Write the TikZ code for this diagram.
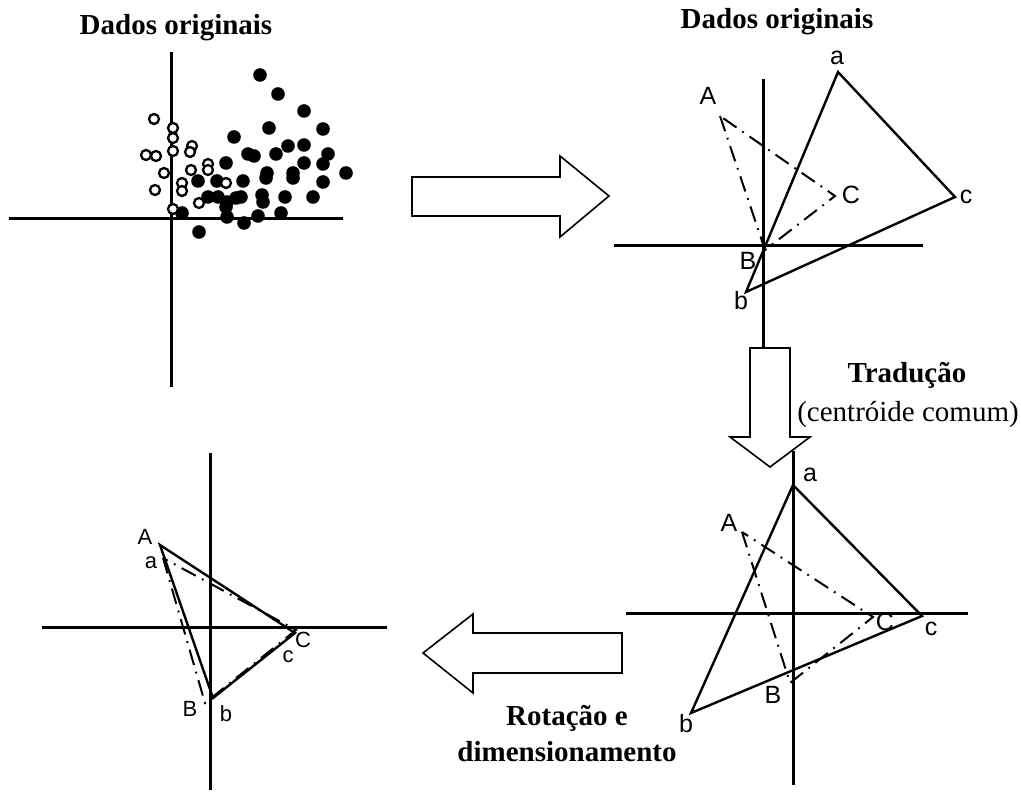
\documentclass[tikz,border=0pt]{standalone}
\usepackage{fontspec}
\setmainfont{Liberation Serif}
\setsansfont{Liberation Sans}

\tikzset{
  axis/.style={line width=1.5pt},
  tri/.style={line width=1.2pt, line join=miter},
  ghost/.style={line width=1pt, dash pattern=on 8pt off 3.5pt on 0.9pt off 3.5pt},
  blockarrow/.style={line width=0.8pt, fill=white},
  title/.style={font=\fontsize{14.5}{17}\selectfont\bfseries},
  note/.style={font=\fontsize{14.5}{17}\selectfont},
  vtx/.style={font=\fontsize{12.5}{14}\selectfont\sffamily, inner sep=0pt},
  smallvtx/.style={font=\fontsize{11}{13}\selectfont\sffamily, inner sep=0pt},
}

\begin{document}
\begin{tikzpicture}[x=0.5pt, y=-0.5pt]
  \useasboundingbox (0,0) rectangle (1021,796);

  % original data: scatter
  \path (176,28) node[title] (t1) {Dados originais};
  \draw[axis] (171,52) -- (171,387);
  \draw[axis] (9,219) -- (343,219);
  \foreach \x/\y in {260/75,278/94,304/111,269/128,323/129,234/137,288/146,304/145,
    328/154,248/154,254/156,276/154,226/163,304/163,323/164,346/173,267/173,293/173,
    198/181,217/181,243/181,266/178,293/178,323/182,208/197,218/197,227/202,236/198,
    241/197,262/195,263/202,285/197,313/197,182/213,227/217,258/216,281/213,244/223,
    199/232,226/207}
    \fill (\x,\y) circle (3.4pt);
  \foreach \x/\y in {154/119,173/128,173/138,173/151,192/146,190/152,146/155,156/156,
    164/173,191/170,208/164,208/170,182/183,182/191,155/190,226/183,199/203,173/209}
    \draw[line width=1.15pt, fill=white] (\x,\y) circle (2.5pt);

  % arrow 1
  \draw[blockarrow] (412,177) -- (560,177) -- (560,156) -- (609,196) -- (560,237)
    -- (560,216) -- (412,216) -- cycle;

  % original data: triangles
  \path (777,22) node[title] (t2) {Dados originais};
  \draw[axis] (763,79) -- (763,348);
  \draw[axis] (614,246) -- (923,246);
  \coordinate (a1) at (838,72);
  \coordinate (b1) at (746,292);
  \coordinate (c1) at (955,197);
  \coordinate (A1) at (720,116);
  \coordinate (B1) at (765,250);
  \coordinate (C1) at (835,196);
  \draw[tri] (a1) -- (b1) -- (c1) -- cycle;
  \draw[ghost] (A1) -- (B1) -- (C1) -- cycle;
  \path (837,58) node[vtx] (la1) {a};
  \path (741,301) node[vtx] (lb1) {b};
  \path (966,197) node[vtx] (lc1) {c};
  \path (708,96) node[vtx] (lA1) {A};
  \path (748,261) node[vtx] (lB1) {B};
  \path (851,195) node[vtx] (lC1) {C};

  % arrow 2
  \draw[blockarrow] (750,348) -- (790,348) -- (790,437) -- (810,437) -- (770,467)
    -- (730,437) -- (750,437) -- cycle;
  \path (907,375) node[title] (t3) {Tradução};
  \path (908,415) node[note] (t4) {(centróide comum)};

  % translated
  \draw[axis] (793,451) -- (793,785);
  \draw[axis] (626,613) -- (968,613);
  \coordinate (a2) at (793,485);
  \coordinate (b2) at (691,713);
  \coordinate (c2) at (922,616);
  \coordinate (A2) at (742,532);
  \coordinate (B2) at (790,683);
  \coordinate (C2) at (873,617);
  \draw[tri] (a2) -- (b2) -- (c2) -- cycle;
  \draw[ghost] (A2) -- (B2) -- (C2) -- cycle;
  \path (810,475) node[vtx] (la2) {a};
  \path (686,724) node[vtx] (lb2) {b};
  \path (931,629) node[vtx] (lc2) {c};
  \path (729,523) node[vtx] (lA2) {A};
  \path (773,695) node[vtx] (lB2) {B};
  \path (885,622) node[vtx] (lC2) {C};

  % arrow 3
  \draw[blockarrow] (622,633) -- (473,633) -- (473,614) -- (423,653) -- (473,693)
    -- (473,673) -- (622,673) -- cycle;
  \path (567,718) node[title] (t5) {Rotação e};
  \path (567,752) node[title] (t6) {dimensionamento};

  % rotated and scaled
  \draw[axis] (210,453) -- (210,790);
  \draw[axis] (42,627) -- (387,627);
  \coordinate (a3) at (160,545);
  \coordinate (b3) at (213,698);
  \coordinate (c3) at (295,633);
  \coordinate (A3) at (163,558);
  \coordinate (B3) at (205,703);
  \coordinate (C3) at (296,630);
  \draw[tri] (a3) -- (b3) -- (c3) -- cycle;
  \draw[ghost] (A3) -- (B3) -- (C3) -- cycle;
  \path (145,537) node[smallvtx] (lA3) {A};
  \path (151,563) node[smallvtx] (la3) {a};
  \path (190,709) node[smallvtx] (lB3) {B};
  \path (226,714) node[smallvtx] (lb3) {b};
  \path (303,640) node[smallvtx] (lC3) {C};
  \path (288,657) node[smallvtx] (lc3) {c};
\end{tikzpicture}
\end{document}
